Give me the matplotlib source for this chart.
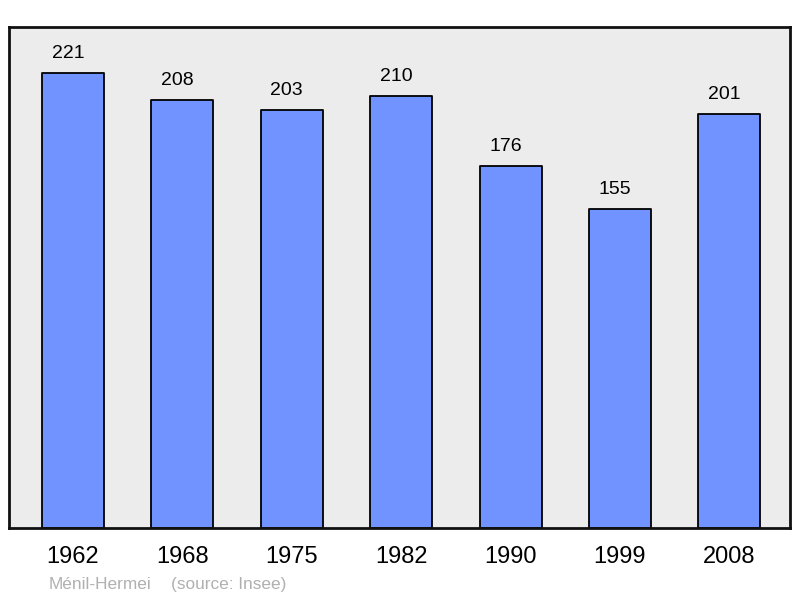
import matplotlib
matplotlib.use("Agg")
import matplotlib.pyplot as plt

years = ["1962", "1968", "1975", "1982", "1990", "1999", "2008"]
population = [221, 208, 203, 210, 176, 155, 201]
commune = "Ménil-Hermei"
source = "(source: Insee)"

plt.rcParams['font.family'] = ['Liberation Sans', 'DejaVu Sans']

fig = plt.figure(figsize=(8.0, 5.98), dpi=100)
ax = fig.add_axes([9/800, 1 - 528/598, 781/800, 501/598])
ax.set_facecolor('#ececec')

x = list(range(len(years)))
bars = ax.bar(x, population, width=0.567, color='#7093ff', edgecolor='black',
              linewidth=1.3, joinstyle='round')
for xi, v in zip(x, population):
    ax.annotate(str(v), (xi, v), xytext=(-3.6, 10.6), textcoords='offset points',
                ha='center', va='baseline', fontsize=14, color='black')

ax.set_xlim(-0.585, 6.555)
ax.set_ylim(0, 243.3)
ax.set_yticks([])
ax.set_xticks(x)
ax.set_xticklabels(years, fontsize=17)
ax.tick_params(axis='x', length=0, pad=13)
for s in ax.spines.values():
    s.set_linewidth(2)
    s.set_color('#111111')

fig.text(49/800, 1 - 589/598, commune, fontsize=12.4, color='#b0b0b0', ha='left', va='baseline')
fig.text(171/800, 1 - 589/598, source, fontsize=12.4, color='#b0b0b0', ha='left', va='baseline')

fig.savefig('out.png', dpi=100)
